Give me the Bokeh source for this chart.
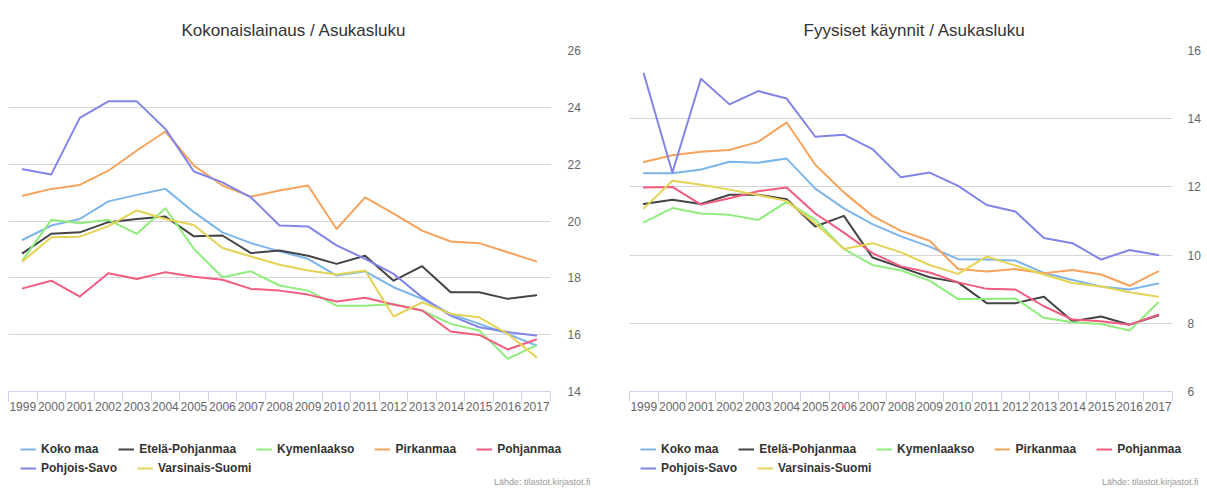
from bokeh.plotting import figure
from bokeh.models import Range1d, FixedTicker, LinearAxis, Legend, LegendItem, Label
from bokeh.layouts import row, column
from bokeh.embed import file_html
from bokeh.resources import INLINE

# ---------------- data ----------------
years = [str(y) for y in range(1999, 2018)]
names = ["Koko maa", "Etelä-Pohjanmaa", "Kymenlaakso", "Pirkanmaa",
         "Pohjanmaa", "Pohjois-Savo", "Varsinais-Suomi"]
colors = ["#7cb5ec", "#434348", "#90ed7d", "#f7a35c", "#f15c80", "#8085e9", "#e4d354"]

# Kokonaislainaus / Asukasluku
koko_maa_L = [19.34, 19.84, 20.07, 20.69, 20.92, 21.13, 20.31, 19.60, 19.22, 18.93,
              18.67, 18.08, 18.23, 17.67, 17.26, 16.73, 16.38, 16.03, 15.62]
etela_L = [18.87, 19.55, 19.60, 19.96, 20.07, 20.16, 19.46, 19.49, 18.87, 18.96,
           18.78, 18.49, 18.78, 17.90, 18.41, 17.49, 17.49, 17.26, 17.39]
kymen_L = [18.63, 20.04, 19.92, 20.04, 19.55, 20.45, 19.02, 18.02, 18.23, 17.73,
           17.55, 17.02, 17.02, 17.08, 16.85, 16.38, 16.15, 15.15, 15.62]
pirkan_L = [20.89, 21.13, 21.27, 21.77, 22.48, 23.15, 21.95, 21.25, 20.86, 21.07,
            21.25, 19.72, 20.83, 20.26, 19.66, 19.28, 19.22, 18.90, 18.58]
pohjan_L = [17.63, 17.90, 17.34, 18.16, 17.96, 18.20, 18.04, 17.93, 17.61, 17.55,
            17.41, 17.17, 17.30, 17.06, 16.85, 16.11, 15.99, 15.48, 15.83]
savo_L = [21.82, 21.64, 23.63, 24.21, 24.21, 23.24, 21.74, 21.36, 20.83, 19.84,
          19.81, 19.14, 18.67, 18.14, 17.32, 16.67, 16.26, 16.09, 15.97]
vars_L = [18.58, 19.43, 19.45, 19.82, 20.37, 20.07, 19.86, 19.05, 18.75, 18.46,
          18.26, 18.12, 18.26, 16.64, 17.14, 16.73, 16.61, 16.03, 15.21]

# Fyysiset käynnit / Asukasluku
koko_maa_R = [12.40, 12.40, 12.51, 12.74, 12.71, 12.83, 11.95, 11.37, 10.91, 10.55,
              10.25, 9.88, 9.87, 9.84, 9.48, 9.27, 9.08, 8.99, 9.17]
etela_R = [11.50, 11.62, 11.50, 11.77, 11.77, 11.64, 10.84, 11.15, 9.93, 9.64,
           9.35, 9.20, 8.59, 8.59, 8.78, 8.06, 8.20, 7.96, 8.23]
kymen_R = [10.96, 11.38, 11.22, 11.18, 11.03, 11.56, 11.04, 10.18, 9.71, 9.55,
           9.25, 8.71, 8.71, 8.73, 8.16, 8.03, 7.98, 7.79, 8.61]
pirkan_R = [12.73, 12.93, 13.03, 13.08, 13.32, 13.89, 12.65, 11.84, 11.15, 10.71,
            10.42, 9.59, 9.52, 9.59, 9.47, 9.56, 9.43, 9.10, 9.52]
pohjan_R = [11.98, 12.00, 11.48, 11.67, 11.87, 11.98, 11.22, 10.66, 10.06, 9.67,
            9.49, 9.20, 9.01, 8.99, 8.50, 8.11, 8.06, 7.96, 8.25]
savo_R = [15.32, 12.42, 15.17, 14.42, 14.81, 14.59, 13.47, 13.53, 13.11, 12.28,
          12.42, 12.03, 11.47, 11.28, 10.50, 10.35, 9.87, 10.15, 10.00]
vars_R = [11.37, 12.18, 12.06, 11.92, 11.76, 11.59, 10.93, 10.18, 10.35, 10.08,
          9.71, 9.45, 9.96, 9.69, 9.43, 9.18, 9.08, 8.91, 8.78]

left_title = "Kokonaislainaus / Asukasluku"
right_title = "Fyysiset käynnit / Asukasluku"
credits = "Lähde: tilastot.kirjastot.fi"
left_ticks = [14, 16, 18, 20, 22, 24, 26]
right_ticks = [6, 8, 10, 12, 14, 16]

FONT = "Liberation Sans"
BOTTOM_H = 70


def make_chart(title, data, yticks, frame_w, b_left, b_right, label_standoff,
               legend_x, credit_x, title_offset):
    xs = list(range(len(years)))
    p = figure(frame_width=frame_w, frame_height=341,
               x_range=Range1d(-0.5, len(years) - 0.5),
               y_range=Range1d(yticks[0], yticks[-1]),
               output_backend="svg", toolbar_location=None,
               x_axis_location=None, y_axis_location=None,
               min_border_left=b_left, min_border_right=b_right,
               min_border_top=50, min_border_bottom=27)
    p.outline_line_color = None
    p.background_fill_color = "white"
    p.border_fill_color = "white"
    p.xgrid.visible = False
    p.ygrid.ticker = FixedTicker(ticks=yticks)
    p.ygrid.grid_line_color = "#d6d6d6"
    p.ygrid.grid_line_width = 1

    p.title.text = title
    p.title.align = "left"
    p.title.offset = title_offset
    p.title.standoff = 22
    p.title.text_font = FONT
    p.title.text_font_size = "17px"
    p.title.text_font_style = "normal"
    p.title.text_color = "#333333"

    xaxis = LinearAxis(
        ticker=FixedTicker(ticks=xs, minor_ticks=[i - 0.5 for i in range(len(years) + 1)]),
        major_label_overrides={i: y for i, y in enumerate(years)},
        axis_line_color="#ccd6eb", axis_line_width=1,
        major_tick_out=0, major_tick_in=0,
        minor_tick_out=10, minor_tick_in=0,
        minor_tick_line_color="#ccd6eb", minor_tick_line_width=1,
        major_label_standoff=0,
        major_label_text_font=FONT, major_label_text_font_size="12px",
        major_label_text_color="#666666")
    p.add_layout(xaxis, "below")

    yaxis = LinearAxis(
        ticker=FixedTicker(ticks=yticks),
        axis_line_color=None, major_tick_line_color=None, minor_tick_line_color=None,
        major_tick_out=0, major_tick_in=0,
        major_label_standoff=label_standoff,
        major_label_text_font=FONT, major_label_text_font_size="12px",
        major_label_text_color="#666666")
    p.add_layout(yaxis, "right")

    for vals, col in zip(data, colors):
        p.line(xs, vals, line_color=col, line_width=2,
               line_join="round", line_cap="round")

    # legend + credits strip below the chart (its series lie outside its view,
    # they only provide the legend swatches)
    total_w = b_left + frame_w + b_right
    q = figure(frame_width=total_w, frame_height=BOTTOM_H,
               x_range=Range1d(-100, -99), y_range=Range1d(-100, -99),
               output_backend="svg", toolbar_location=None,
               x_axis_location=None, y_axis_location=None,
               min_border=0, min_border_left=0, min_border_right=0,
               min_border_top=0, min_border_bottom=0)
    q.outline_line_color = None
    q.xgrid.visible = False
    q.ygrid.visible = False
    q.background_fill_color = "white"
    q.border_fill_color = "white"
    items = []
    for name, vals, col in zip(names, data, colors):
        r = q.line(xs, vals, line_color=col, line_width=2)
        items.append(LegendItem(label=name, renderers=[r]))

    legend_style = dict(orientation="horizontal", border_line_color=None,
                        background_fill_alpha=0, padding=0, margin=0, spacing=20,
                        label_standoff=5, glyph_width=16, glyph_height=14,
                        label_height=14, label_text_font=FONT,
                        label_text_font_style="bold", label_text_font_size="12px",
                        label_text_color="#333333")
    q.add_layout(Legend(items=items[:5], location=(legend_x, 32), **legend_style))
    q.add_layout(Legend(items=items[5:], location=(legend_x, 13), **legend_style))
    q.add_layout(Label(x=credit_x, y=7, x_units="screen", y_units="screen",
                       text=credits, text_align="right", text_baseline="alphabetic",
                       text_font=FONT, text_font_size="9px", text_color="#999999"))
    return column(p, q, spacing=0)


left = make_chart(left_title,
                  [koko_maa_L, etela_L, kymen_L, pirkan_L, pohjan_L, savo_L, vars_L],
                  left_ticks, 542, 8, 50, 17, 20, 582, 173)
right = make_chart(right_title,
                   [koko_maa_R, etela_R, kymen_R, pirkan_R, pohjan_R, savo_R, vars_R],
                   right_ticks, 543, 29, 34, 15, 40, 569, 174)

layout = row(left, right, spacing=0)
open("out.html", "w").write(file_html(layout, INLINE))
